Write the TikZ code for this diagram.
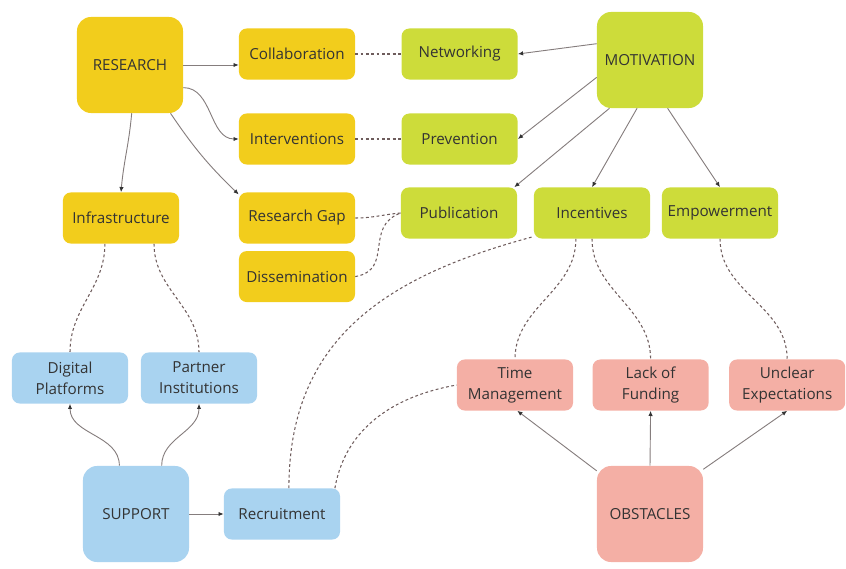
\documentclass[tikz,border=0pt]{standalone}
\usepackage{fontspec}
\setmainfont{Open Sans}
\usepackage{xcolor}
\usetikzlibrary{positioning,arrows.meta}
\definecolor{resyellow}{HTML}{F2CD1C}
\definecolor{motgreen}{HTML}{CDDC3A}
\definecolor{supblue}{HTML}{A9D3F0}
\definecolor{obspink}{HTML}{F4AFA5}
\definecolor{linkgray}{HTML}{857D7D}
\definecolor{dashbrown}{HTML}{6E5C5C}
\tikzset{
box/.style={
rounded corners=5.5pt,
minimum width=2.9cm,
minimum height=1.275cm,
align=center,
inner sep=2pt,
text=black!80,
font=\fontsize{10.8}{15}\selectfont
},
bigbox/.style={
box,
rounded corners=10pt,
minimum width=2.65cm,
minimum height=2.4cm
},
arrow/.style={
-{Latex[length=1.3mm,width=1.1mm,color=black!80]},
draw=linkgray,
line width=0.65pt
},
link/.style={
draw=dashbrown,
dash pattern=on 2pt off 1.8pt,
line width=0.75pt
}
}
\begin{document}
\begin{tikzpicture}[x=0.025cm,y=-0.025cm]
\useasboundingbox (0,0) rectangle (846,569);
% research branch
\node[bigbox,fill=resyellow](research) at (130,65){RESEARCH};
\node[box,fill=resyellow](collab) at (297,54){Collaboration};
\node[box,fill=resyellow](interv) at (297,139){Interventions};
\node[box,fill=resyellow](infra) at (121,218){Infrastructure};
\node[box,fill=resyellow](gap) at (297,218){Research Gap};
\node[box,fill=resyellow,below=0.175cm of gap](dissem){Dissemination};
% motivation branch
\node[bigbox,fill=motgreen](motivation) at (650,60){MOTIVATION};
\node[box,fill=motgreen,right=1.15cm of collab](network){Networking};
\node[box,fill=motgreen,right=1.15cm of interv](prevent){Prevention};
\node[box,fill=motgreen](public) at (459,213){Publication};
\node[box,fill=motgreen](incent) at (592,213){Incentives};
\node[box,fill=motgreen](empower) at (720,213){Empowerment};
% support branch
\node[bigbox,fill=supblue](support) at (136,514){SUPPORT};
\node[box,fill=supblue](digital) at (70,378){Digital\\Platforms};
\node[box,fill=supblue](partner) at (199,378){Partner\\Institutions};
\node[box,fill=supblue](recruit) at (282,514){Recruitment};
% obstacles branch
\node[bigbox,fill=obspink](obstacles) at (650,514){OBSTACLES};
\node[box,fill=obspink](timemgmt) at (515,385){Time\\Management};
\node[box,fill=obspink,right=0.475cm of timemgmt](funding){Lack of\\Funding};
\node[box,fill=obspink,right=0.5cm of funding](unclear){Unclear\\Expectations};

\draw[arrow](research.east)--(research.east-|collab.west);
\draw[arrow](research.-23) to[out=0,in=180](interv.west);
\draw[arrow](research.-50) to[bend right=6](gap.158);
\draw[arrow](research.-88) to[out=-95,in=85](infra.north);

\draw[arrow](motivation.163)--(network.east);
\draw[arrow](motivation.198)--(prevent.east);
\draw[arrow](motivation.230)--(public.25);
\draw[arrow](motivation.-105)--(incent.north);
\draw[arrow](motivation.-70)--(empower.north);

\draw[arrow](support.109) to[out=90,in=-90](digital.south);
\draw[arrow](support.62) to[out=90,in=-90](partner.south);
\draw[arrow](support.east)--(recruit.west);

\draw[arrow](obstacles.141)--(timemgmt.-85);
\draw[arrow](obstacles.north)--(funding.south);
\draw[arrow](obstacles.40)--(unclear.south);

\foreach \x/\y in {collab/network,interv/prevent}
\draw[link](\x)--(\y);
\draw[link](gap.east) to[out=0,in=185](public.west);
\draw[link](dissem.east) to[out=10,in=200,looseness=1.3](public.west);
\draw[link](infra.-122) to[out=-90,in=90](digital.north);
\draw[link](infra.-38) to[out=-90,in=90](partner.north);
\draw[link](recruit.75) to[out=90,in=195,looseness=1.1](incent.-158);
\draw[link](recruit.26) to[out=80,in=190](timemgmt.west);
\draw[link](incent.-122) to[out=-90,in=90](timemgmt.north);
\draw[link](incent.south) to[out=-90,in=90](funding.north);
\draw[link](empower.south) to[out=-90,in=90](unclear.north);
\end{tikzpicture}
\end{document}
